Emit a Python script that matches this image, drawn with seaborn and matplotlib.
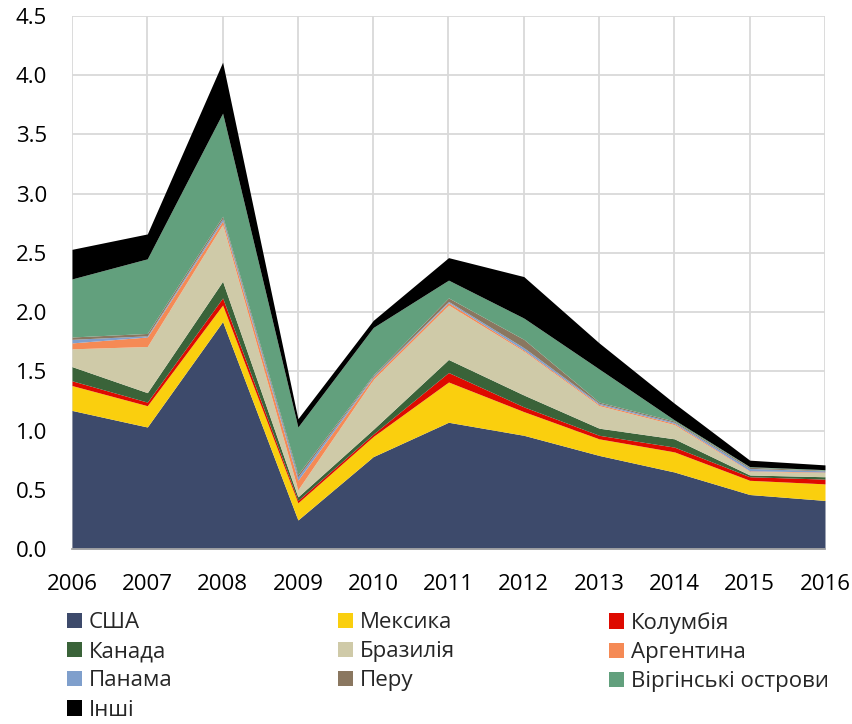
import numpy as np
import pandas as pd
import matplotlib
matplotlib.use("Agg")
import matplotlib.pyplot as plt
import seaborn as sns
from matplotlib.patches import Patch

# Years on the x axis
years = [2006, 2007, 2008, 2009, 2010, 2011, 2012, 2013, 2014, 2015, 2016]

# Values per country
usa = [1.17, 1.03, 1.92, 0.245, 0.78, 1.07, 0.96, 0.79, 0.65, 0.46, 0.41]
mexico = [0.21, 0.18, 0.14, 0.145, 0.17, 0.34, 0.20, 0.14, 0.17, 0.12, 0.14]
colombia = [0.04, 0.03, 0.06, 0.02, 0.02, 0.08, 0.04, 0.03, 0.04, 0.03, 0.04]
canada = [0.12, 0.08, 0.14, 0.03, 0.04, 0.11, 0.10, 0.06, 0.07, 0.015, 0.02]
brazil = [0.15, 0.39, 0.48, 0.06, 0.42, 0.46, 0.37, 0.19, 0.12, 0.03, 0.035]
argentina = [0.05, 0.08, 0.03, 0.08, 0.02, 0.02, 0.01, 0.01, 0.01, 0.005, 0.005]
panama = [0.03, 0.01, 0.02, 0.03, 0.01, 0.01, 0.02, 0.01, 0.01, 0.02, 0.01]
peru = [0.02, 0.02, 0.02, 0.02, 0.01, 0.03, 0.07, 0.01, 0.01, 0.01, 0.005]
virgin = [0.49, 0.63, 0.87, 0.40, 0.40, 0.15, 0.18, 0.28, 0.01, 0.005, 0.005]
others = [0.25, 0.21, 0.43, 0.07, 0.06, 0.19, 0.35, 0.22, 0.14, 0.055, 0.04]

labels = ['США', 'Мексика', 'Колумбія', 'Канада', 'Бразилія', 'Аргентина',
          'Панама', 'Перу', 'Віргінські острови', 'Інші']
colors = ['#3D4A6B', '#FACF0E', '#DE0A00', '#3A6339', '#CFCAA8', '#F58A55',
          '#7F9FCC', '#8A7760', '#62A07D', '#000000']

df = pd.DataFrame({'year': years, 'США': usa, 'Мексика': mexico, 'Колумбія': colombia,
                   'Канада': canada, 'Бразилія': brazil, 'Аргентина': argentina,
                   'Панама': panama, 'Перу': peru, 'Віргінські острови': virgin,
                   'Інші': others})

sns.set_theme(style="whitegrid")
plt.rcParams['font.family'] = ['Open Sans', 'DejaVu Sans']

fig = plt.figure(figsize=(8.52, 7.24), dpi=100)
ax = fig.add_axes([72 / 852, 1 - 549 / 724, (825 - 72) / 852, (549 - 16) / 724])

ax.stackplot(df['year'], [df[c] for c in labels], colors=colors, linewidth=0)

ax.set_xlim(2006, 2016)
ax.set_ylim(0, 4.5)
ax.set_xticks(years)
ax.set_yticks(np.arange(0, 4.51, 0.5))
ax.set_yticklabels([f'{v:.1f}' for v in np.arange(0, 4.51, 0.5)])
ax.tick_params(axis='both', labelsize=16, pad=18, length=0, colors='black')
ax.grid(True, color='#D9D9D9', linewidth=1.3)
ax.set_axisbelow(True)
for s in ['left', 'top', 'right']:
    ax.spines[s].set_visible(False)
ax.spines['bottom'].set_color('#A6A6A6')
ax.spines['bottom'].set_linewidth(1.3)
ax.spines['bottom'].set_zorder(5)

# legend: three columns placed by hand
cols = [[0, 3, 6, 9], [1, 4, 7], [2, 5, 8]]
xs = [67, 338, 609]
for idx, x in zip(cols, xs):
    handles = [Patch(facecolor=colors[i], edgecolor='none', label=labels[i]) for i in idx]
    fig.legend(handles=handles, loc='upper left', bbox_to_anchor=(x / 852, 1 - 612 / 724),
               frameon=False, fontsize=16, handlelength=0.68, handleheight=0.68,
               handletextpad=0.3, labelspacing=0.37, borderpad=0, borderaxespad=0)

fig.savefig('out.png', dpi=100)
